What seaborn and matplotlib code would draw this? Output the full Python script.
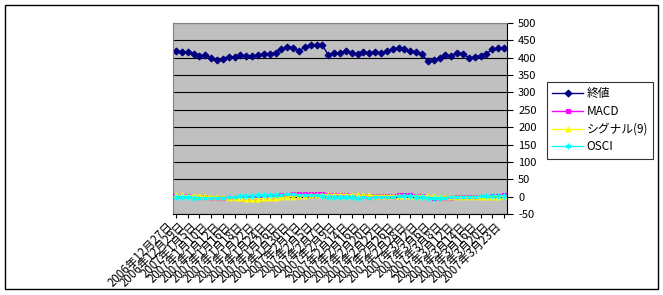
import matplotlib
matplotlib.use("Agg")
import matplotlib.pyplot as plt
import seaborn as sns
import pandas as pd
from matplotlib.patches import Rectangle

plt.rcParams['font.family'] = ['Noto Sans CJK JP', 'DejaVu Sans']

dates = [
    "2006年12月27日", "2006年12月28日", "2006年12月29日",
    "2007年1月4日", "2007年1月5日", "2007年1月9日", "2007年1月10日", "2007年1月11日",
    "2007年1月12日", "2007年1月15日", "2007年1月16日", "2007年1月17日", "2007年1月18日",
    "2007年1月19日", "2007年1月22日", "2007年1月23日", "2007年1月24日", "2007年1月25日",
    "2007年1月26日", "2007年1月29日", "2007年1月30日", "2007年1月31日",
    "2007年2月1日", "2007年2月2日", "2007年2月5日", "2007年2月6日", "2007年2月7日",
    "2007年2月8日", "2007年2月9日", "2007年2月13日", "2007年2月14日", "2007年2月15日",
    "2007年2月16日", "2007年2月19日", "2007年2月20日", "2007年2月21日", "2007年2月22日",
    "2007年2月23日", "2007年2月26日", "2007年2月27日", "2007年2月28日",
    "2007年3月1日", "2007年3月2日", "2007年3月5日", "2007年3月6日", "2007年3月7日",
    "2007年3月8日", "2007年3月9日", "2007年3月12日", "2007年3月13日", "2007年3月14日",
    "2007年3月15日", "2007年3月16日", "2007年3月19日", "2007年3月20日", "2007年3月22日",
    "2007年3月23日",
]

close = [419, 416, 416, 412, 406, 408, 400, 393, 397, 403,
         403, 408, 406, 406, 407, 412, 412, 414, 426, 431,
         429, 419, 431, 438, 436, 436, 408, 414, 415, 420,
         414, 411, 416, 414, 416, 414, 419, 424, 429, 424,
         419, 416, 411, 390, 394, 400, 408, 405, 414, 411,
         400, 402, 406, 412, 424, 427, 429]

macd = [3, 2, 1, 0, -1, -2, -3, -4, -5, -5,
        -5, -4, -4, -3, -2, -1, 0, 2, 4, 6,
        7, 7, 8, 9, 9, 8, 6, 5, 4, 4,
        3, 2, 2, 1, 1, 1, 2, 3, 5, 5,
        4, 3, 1, -2, -4, -4, -4, -3, -2, -2,
        -2, -2, -1, 0, 2, 3, 4]

signal = [4, 4, 3, 3, 2, 1, 0, -1, -2, -3,
          -4, -5, -6, -6, -6, -5, -4, -3, -2, -1,
          0, 2, 3, 4, 5, 6, 6, 6, 6, 6,
          5, 5, 4, 4, 3, 3, 3, 3, 3, 3,
          3, 3, 3, 2, 1, 0, -1, -2, -2, -2,
          -2, -2, -2, -2, -1, 0, 1]

osci = [-1, -2, -2, -3, -3, -3, -3, -3, -3, -2,
        -1, 1, 2, 3, 4, 4, 4, 5, 6, 7,
        7, 5, 5, 5, 4, 2, 0, -1, -2, -2,
        -2, -3, -2, -3, -2, -2, -1, 0, 2, 2,
        1, 0, -2, -4, -5, -4, -3, -1, 0, 0,
        0, 0, 1, 2, 3, 3, 3]

series_names = ["終値", "MACD", "シグナル(9)", "OSCI"]
series_values = [close, macd, signal, osci]
colors = ["#000080", "#FF00FF", "#FFFF00", "#00FFFF"]
markers = ["D", "s", "^", (6, 2, 0)]
msizes = [3.5, 3, 3.5, 4]

yticks = list(range(-50, 501, 50))

W, H = 663, 295
fig = plt.figure(figsize=(W / 100, H / 100), dpi=100)
fig.patch.set_facecolor("white")
fig.patches.append(Rectangle((5 / W, 1 - 289 / H), 653 / W, 284 / H,
                             transform=fig.transFigure, fill=False,
                             edgecolor="black", linewidth=1))

ax = fig.add_axes([173 / W, 1 - 214 / H, 334 / W, 191 / H])
ax.set_facecolor("#C0C0C0")

idx = list(range(len(dates)))
for name, vals, c, m, ms in zip(series_names, series_values, colors, markers, msizes):
    df = pd.DataFrame({"i": idx, "v": vals})
    sns.lineplot(data=df, x="i", y="v", ax=ax, color=c, marker=m,
                 markersize=ms, markeredgecolor=c, markerfacecolor=c,
                 linewidth=1, label=name, markeredgewidth=0.8)

ax.set_xlim(-0.5, len(dates) - 0.5)
ax.set_ylim(-50, 500)
ax.set_yticks(yticks)
ax.set_yticklabels([str(t) for t in yticks], fontsize=8)
ax.yaxis.tick_right()
ax.tick_params(axis="y", direction="out", length=4, pad=4, colors="black")
for t in yticks:
    ax.axhline(t, color="black", linewidth=0.8, zorder=0.5)

ax.set_xticks(idx[::2])
ax.set_xticklabels(dates[::2], rotation=45, ha="right", va="top", fontsize=8.3)
ax.tick_params(axis="x", direction="out", length=3, pad=1)
ax.set_xlabel("")
ax.set_ylabel("")

for s in ["top", "left"]:
    ax.spines[s].set_color("#808080")
    ax.spines[s].set_linewidth(0.8)
for s in ["right", "bottom"]:
    ax.spines[s].set_color("black")
    ax.spines[s].set_linewidth(0.8)

ax.legend_.remove()
handles, labels = ax.get_legend_handles_labels()
leg = fig.legend(handles, labels, loc="upper left",
                 bbox_to_anchor=(547 / W, 1 - 82 / H),
                 bbox_transform=fig.transFigure, borderaxespad=0,
                 frameon=True, fancybox=False, edgecolor="black",
                 fontsize=8.5, handlelength=2.6, labelspacing=0.4,
                 borderpad=0.45, handletextpad=0.3)
leg.get_frame().set_linewidth(0.8)

fig.savefig("out.png", dpi=100, facecolor="white")
